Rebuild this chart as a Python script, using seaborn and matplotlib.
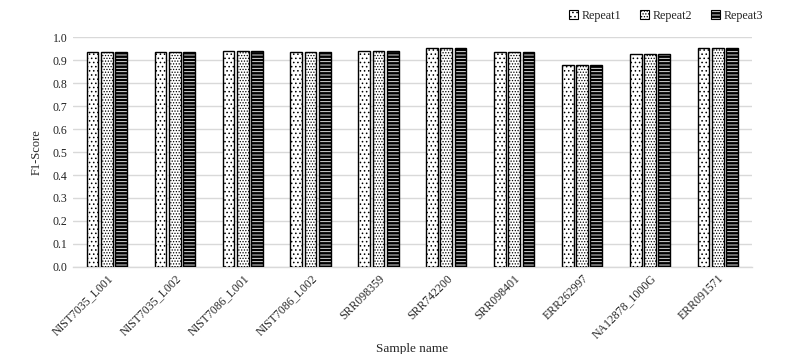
import matplotlib
matplotlib.use("Agg")
import matplotlib.pyplot as plt
import matplotlib.colors as mcolors
import seaborn as sns
import pandas as pd
from matplotlib.patches import Patch

samples = ["NIST7035_L001", "NIST7035_L002", "NIST7086_L001", "NIST7086_L002",
           "SRR098359", "SRR742200", "SRR098401", "ERR262997", "NA12878_1000G", "ERR091571"]
repeat1 = [0.935, 0.935, 0.940, 0.935, 0.940, 0.953, 0.935, 0.879, 0.926, 0.954]
repeat2 = [0.935, 0.935, 0.940, 0.935, 0.940, 0.953, 0.935, 0.879, 0.926, 0.954]
repeat3 = [0.935, 0.935, 0.940, 0.935, 0.940, 0.953, 0.935, 0.879, 0.926, 0.954]
series = ["Repeat1", "Repeat2", "Repeat3"]
yticks = [0.0, 0.1, 0.2, 0.3, 0.4, 0.5, 0.6, 0.7, 0.8, 0.9, 1.0]

df = pd.DataFrame({"Sample": samples * 3,
                   "F1": repeat1 + repeat2 + repeat3,
                   "Repeat": [s for s in series for _ in samples]})

sns.set_theme(style="white")
plt.rcParams["font.family"] = ["Liberation Serif", "DejaVu Serif"]
plt.rcParams["hatch.linewidth"] = 0.6

fig = plt.figure(figsize=(7.93, 3.54), dpi=100)
ax = fig.add_axes([0.092, 0.246, 0.856, 0.649])

sns.barplot(data=df, x="Sample", y="F1", hue="Repeat", order=samples, hue_order=series,
            width=0.63, gap=0.18, palette=["white", "white", "black"], ax=ax,
            legend=False, saturation=1, errorbar=None, zorder=3)

styles = {"Repeat1": dict(face="white", hatch="....", hcol="black"),
          "Repeat2": dict(face="white", hatch="......", hcol="black"),
          "Repeat3": dict(face="black", hatch="-----", hcol="white")}


def style_patch(p, st, lw):
    p.set_facecolor(st["face"])
    p.set_hatch(st["hatch"])
    p.set_edgecolor("black")
    p.set_linewidth(lw)
    if hasattr(p, "set_hatchcolor"):
        p.set_hatchcolor(st["hcol"])
    else:
        p._hatch_color = mcolors.to_rgba(st["hcol"])
    p.stale = True


for cont, name in zip(ax.containers, series):
    for p in cont:
        style_patch(p, styles[name], 1.0)

ax.set_ylim(0, 1.0)
ax.set_yticks(yticks)
ax.set_yticklabels([f"{v:.1f}" for v in yticks], fontsize=8.5, color="#222222")
ax.set_xlim(-0.5, len(samples) - 0.5)
ax.set_xticks(range(len(samples)))
ax.set_xticklabels(samples, rotation=45, ha="right", rotation_mode="anchor", fontsize=8.5)
ax.tick_params(axis="both", length=0, pad=4)
ax.grid(axis="y", color="#d9d9d9", linewidth=1.0, zorder=0)
ax.set_axisbelow(True)
for s in ["top", "right", "left"]:
    ax.spines[s].set_visible(False)
ax.spines["bottom"].set_color("#d9d9d9")
ax.spines["bottom"].set_linewidth(1.0)

ax.set_ylabel("F1-Score", fontsize=9, labelpad=7)
ax.set_xlabel("Sample name", fontsize=9.5)
ax.xaxis.set_label_coords(0.5, -0.33)

handles = []
for name in series:
    h = Patch()
    style_patch(h, styles[name], 0.8)
    handles.append(h)
leg = fig.legend(handles, series, loc="center", bbox_to_anchor=(0.84, 0.955), ncol=3,
                 frameon=False, fontsize=8.7, handlelength=0.7, handleheight=0.7,
                 handletextpad=0.3, columnspacing=1.6)
for lp, name in zip(leg.get_patches(), series):
    style_patch(lp, styles[name], 0.8)

fig.savefig("out.png", dpi=100)
